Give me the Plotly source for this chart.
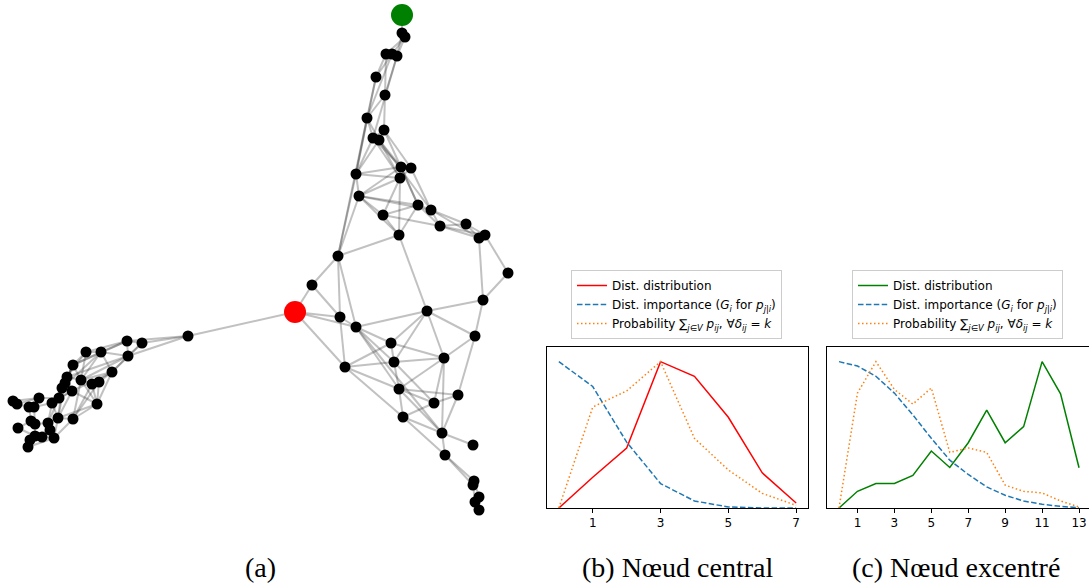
import plotly.graph_objects as go

# ---------------- network data (layout positions, image-pixel units) ----------------
node_x = [402, 402, 405, 386, 392, 397, 376, 385, 367, 384, 373, 379, 356, 401, 411, 400, 359, 418, 431, 383,
          440, 466, 479, 485, 399, 338, 508, 312, 295, 483, 427, 340, 356, 475, 391, 444, 394, 345, 399, 458,
          434, 403, 442, 473, 445, 474, 473, 479, 475, 479,
          188, 127, 142, 86, 101, 128, 73, 112, 67, 65, 62, 81, 92, 99, 72, 59, 13, 17, 39, 29,
          34, 52, 97, 58, 73, 31, 35, 48, 50, 18, 35, 42, 54, 30, 28]
node_y = [15, 33, 37, 54, 54, 56, 77, 95, 118, 130, 138, 140, 174, 167, 168, 178, 196, 205, 210, 215,
          226, 224, 238, 235, 235, 256, 273, 285, 312, 300, 311, 317, 327, 336, 343, 358, 362, 367, 389, 395,
          403, 417, 433, 445, 455, 481, 485, 497, 502, 510,
          336, 341, 343, 352, 352, 356, 365, 372, 377, 383, 388, 380, 384, 382, 391, 398, 401, 404, 398, 407,
          407, 403, 404, 418, 419, 421, 424, 423, 430, 428, 436, 437, 438, 440, 447]
source_node = 28   # red (central node)
target_node = 0    # green (eccentric node)

edges = [
    (0, 1), (1, 2), (2, 3), (2, 4), (2, 5), (1, 5), (3, 6), (4, 6), (5, 7), (3, 7), (6, 8), (4, 8),
    (7, 8), (5, 10), (7, 9), (8, 10), (8, 11), (9, 10), (9, 11), (8, 12), (10, 12), (11, 12), (10, 13),
    (11, 13), (9, 14), (10, 15), (11, 15), (9, 17), (11, 18), (12, 13), (12, 15), (12, 16), (13, 16),
    (15, 16), (13, 14), (14, 15), (13, 17), (14, 18), (15, 19), (15, 24), (16, 19), (16, 17), (16, 18),
    (16, 24), (19, 17), (19, 24), (19, 20), (17, 24), (17, 18), (17, 20), (18, 20), (18, 21), (18, 22),
    (20, 22), (20, 23), (21, 22), (21, 23), (22, 23), (20, 21), (24, 25), (25, 12), (25, 16), (8, 25),
    (6, 12), (22, 29), (23, 26), (26, 29), (25, 27), (27, 28), (25, 31), (25, 32), (24, 30), (29, 30),
    (29, 33), (28, 31), (28, 32), (28, 37), (27, 31), (31, 32), (31, 37), (32, 30), (32, 34), (32, 36),
    (32, 38), (30, 34), (30, 36), (30, 33), (30, 35), (33, 35), (33, 39), (34, 35), (34, 36), (36, 35),
    (37, 34), (37, 36), (37, 38), (37, 41), (36, 38), (36, 40), (35, 38), (35, 40), (35, 42), (38, 39),
    (38, 40), (38, 41), (38, 42), (39, 40), (39, 42), (40, 41), (41, 42), (41, 44), (42, 43), (42, 44),
    (44, 45), (44, 46), (45, 47), (46, 48), (47, 49), (48, 49), (45, 46), (47, 48), (32, 42),
    (28, 50), (50, 51), (50, 52), (50, 55), (51, 52), (51, 53), (51, 54), (51, 55), (52, 55), (52, 57),
    (53, 54), (53, 56), (54, 56), (54, 57), (54, 55), (55, 57), (55, 58), (56, 58), (56, 59), (56, 61),
    (57, 61), (57, 62), (57, 63), (57, 72), (58, 60), (58, 61), (59, 64), (60, 65), (61, 62), (62, 63),
    (63, 72), (64, 65), (64, 71), (65, 68), (65, 71), (66, 67), (67, 68), (68, 69), (68, 70), (69, 70),
    (70, 71), (71, 73), (72, 74), (73, 74), (73, 77), (74, 82), (75, 76), (76, 77), (77, 78), (78, 82),
    (79, 80), (80, 81), (81, 82), (80, 83), (83, 84), (78, 81), (75, 79), (69, 75), (71, 77), (60, 73),
    (61, 74), (63, 74), (59, 73), (56, 65), (58, 64), (64, 72), (62, 72), (53, 58), (59, 71), (60, 71),
    (64, 73), (65, 77), (76, 80), (78, 80), (82, 84), (57, 64), (55, 61), (54, 61), (54, 60), (61, 72),
    (62, 74), (66, 68), (67, 69), (70, 76), (73, 82), (72, 73), (56, 60), (53, 61), (51, 56),
]

# ---------------- line chart data ----------------
k_b = [0, 1, 2, 3, 4, 5, 6, 7]
dist_b = [0.0, 0.21, 0.41, 1.0, 0.90, 0.62, 0.24, 0.034]
imp_b = [1.0, 0.83, 0.45, 0.167, 0.048, 0.007, 0.0, 0.0]
prob_b = [0.0, 0.69, 0.80, 1.0, 0.476, 0.26, 0.10, 0.018]

k_c = list(range(14))
dist_c = [0.0, 0.114, 0.167, 0.167, 0.222, 0.389, 0.277, 0.446, 0.668, 0.446, 0.556, 1.0, 0.78, 0.275]
imp_c = [1.0, 0.97, 0.90, 0.785, 0.636, 0.476, 0.327, 0.229, 0.144, 0.087, 0.048, 0.025, 0.011, 0.002]
prob_c = [0.0, 0.785, 1.0, 0.81, 0.71, 0.82, 0.38, 0.41, 0.38, 0.156, 0.114, 0.103, 0.048, 0.007]

ticks_b = [1, 3, 5, 7]
ticks_c = [1, 3, 5, 7, 9, 11, 13]

lbl_dist = "Dist. distribution"
lbl_imp = "Dist. importance (<i>G<sub>i</sub></i> for <i>p<sub>j|i</sub></i>)"
lbl_prob = "Probability ∑<sub><i>j</i>∈<i>V</i></sub> <i>p<sub>ij</sub></i>, ∀<i>δ<sub>ij</sub></i> = <i>k</i>"

captions = ["(a)", "(b) Nœud central", "(c) Nœud excentré"]

W, H = 1089, 588
fig = go.Figure()

# network edges (each its own trace so overlaps darken)
for a, b in edges:
    fig.add_trace(go.Scatter(x=[node_x[a], node_x[b]], y=[node_y[a], node_y[b]], mode="lines",
                             line=dict(color="rgba(50,50,50,0.3)", width=2),
                             hoverinfo="skip", showlegend=False, xaxis="x", yaxis="y"))
plain = [i for i in range(len(node_x)) if i not in (source_node, target_node)]
fig.add_trace(go.Scatter(x=[node_x[i] for i in plain], y=[node_y[i] for i in plain], mode="markers",
                         marker=dict(color="black", size=11), showlegend=False, xaxis="x", yaxis="y"))
fig.add_trace(go.Scatter(x=[node_x[source_node]], y=[node_y[source_node]], mode="markers",
                         marker=dict(color="red", size=22), showlegend=False, xaxis="x", yaxis="y"))
fig.add_trace(go.Scatter(x=[node_x[target_node]], y=[node_y[target_node]], mode="markers",
                         marker=dict(color="green", size=22), showlegend=False, xaxis="x", yaxis="y"))

# chart (b)
fig.add_trace(go.Scatter(x=k_b, y=dist_b, mode="lines", name=lbl_dist, line=dict(color="#ff0000", width=1.5),
                         xaxis="x2", yaxis="y2", legend="legend"))
fig.add_trace(go.Scatter(x=k_b, y=imp_b, mode="lines", name=lbl_imp,
                         line=dict(color="#1f77b4", width=1.5, dash="5.5px,2.4px"),
                         xaxis="x2", yaxis="y2", legend="legend"))
fig.add_trace(go.Scatter(x=k_b, y=prob_b, mode="lines", name=lbl_prob,
                         line=dict(color="#ff7f0e", width=1.5, dash="1.5px,2.5px"),
                         xaxis="x2", yaxis="y2", legend="legend"))
# chart (c)
fig.add_trace(go.Scatter(x=k_c, y=dist_c, mode="lines", name=lbl_dist, line=dict(color="#008000", width=1.5),
                         xaxis="x3", yaxis="y3", legend="legend2"))
fig.add_trace(go.Scatter(x=k_c, y=imp_c, mode="lines", name=lbl_imp,
                         line=dict(color="#1f77b4", width=1.5, dash="5.5px,2.4px"),
                         xaxis="x3", yaxis="y3", legend="legend2"))
fig.add_trace(go.Scatter(x=k_c, y=prob_c, mode="lines", name=lbl_prob,
                         line=dict(color="#ff7f0e", width=1.5, dash="1.5px,2.5px"),
                         xaxis="x3", yaxis="y3", legend="legend2"))

font_ui = "DejaVu Sans"
y_bot, y_top = 1 - 508 / H, 1 - 347 / H

legend_common = dict(font=dict(family=font_ui, size=12, color="black"), bgcolor="rgba(255,255,255,0.9)",
                     bordercolor="#cccccc", borderwidth=1, xanchor="left", yanchor="top",
                     itemwidth=30, tracegroupgap=0)

fig.update_layout(
    width=W, height=H, margin=dict(l=0, r=0, t=0, b=0),
    paper_bgcolor="white", plot_bgcolor="rgba(0,0,0,0)",
    xaxis=dict(domain=[0, 1], range=[0, W], visible=False),
    yaxis=dict(domain=[0, 1], range=[H, 0], visible=False),
    xaxis2=dict(domain=[547 / W, 808 / W], range=[-0.35, 7.35], tickvals=ticks_b, ticks="outside",
                ticklen=3.5, tickcolor="black", showline=True, linecolor="black", linewidth=1, mirror=True,
                showgrid=False, zeroline=False, tickfont=dict(family=font_ui, size=12, color="black"),
                anchor="y2"),
    yaxis2=dict(domain=[y_bot, y_top], range=[0, 1.1], showticklabels=False, ticks="", showline=True,
                linecolor="black", linewidth=1, mirror=True, showgrid=False, zeroline=False, anchor="x2"),
    xaxis3=dict(domain=[827 / W, 1.0], range=[-0.65, 13.54], tickvals=ticks_c, ticks="outside",
                ticklen=3.5, tickcolor="black", showline=True, linecolor="black", linewidth=1, mirror=True,
                showgrid=False, zeroline=False, tickfont=dict(family=font_ui, size=12, color="black"),
                anchor="y3"),
    yaxis3=dict(domain=[y_bot, y_top], range=[0, 1.1], showticklabels=False, ticks="", showline=True,
                linecolor="black", linewidth=1, mirror=False, showgrid=False, zeroline=False, anchor="x3"),
    legend=dict(x=571 / W, y=1 - 270 / H, **legend_common),
    legend2=dict(x=852 / W, y=1 - 270 / H, **legend_common),
    showlegend=True,
)

cap_x = [260, 677, 956]
for cx, txt in zip(cap_x, captions):
    fig.add_annotation(x=cx / W, y=1 - 567 / H, xref="paper", yref="paper", text=txt, showarrow=False,
                       font=dict(family="Liberation Serif", size=28, color="black"),
                       xanchor="center", yanchor="middle")

fig.write_html("out.html", config={"displayModeBar": False},
               post_script="document.body.style.margin='0';document.body.style.padding='0';"
                           "document.documentElement.style.overflow='hidden';")
